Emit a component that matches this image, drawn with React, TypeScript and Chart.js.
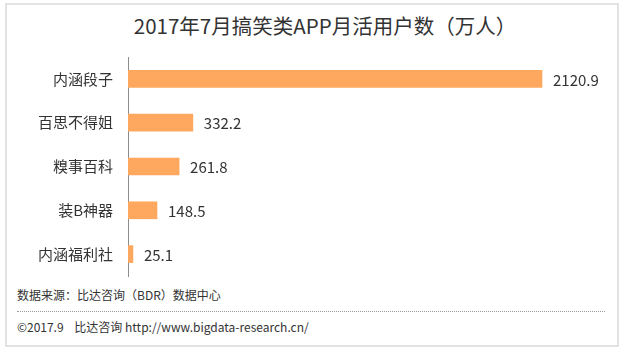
import React, { useEffect, useRef } from "react";
import { Chart, registerables } from "chart.js";

Chart.register(...registerables);

const titleText = "2017年7月搞笑类APP月活用户数（万人）";
const categories = ["内涵段子", "百思不得姐", "糗事百科", "装B神器", "内涵福利社"];
const values = [2120.9, 332.2, 261.8, 148.5, 25.1];
const sourceText = "数据来源：比达咨询（BDR）数据中心";
const copyrightText = "©2017.9    比达咨询 http://www.bigdata-research.cn/";

const FONT = '"Noto Sans CJK SC", "Noto Sans", sans-serif';

const valueLabels = {
  id: "valueLabels",
  afterDatasetsDraw(chart: any) {
    const ctx = chart.ctx;
    const meta = chart.getDatasetMeta(0);
    ctx.save();
    ctx.font = `15px ${FONT}`;
    ctx.fillStyle = "#333333";
    ctx.textAlign = "left";
    ctx.textBaseline = "middle";
    meta.data.forEach((bar: any, i: number) => {
      const v = chart.data.datasets[0].data[i] as number;
      ctx.fillText(v.toFixed(1), bar.x + 11, bar.y + 1);
    });
    ctx.restore();
  },
};

export default function App() {
  const ref = useRef<HTMLCanvasElement>(null);

  useEffect(() => {
    if (!ref.current) return;
    const chart = new Chart(ref.current, {
      type: "bar",
      data: {
        labels: categories,
        datasets: [
          {
            data: values,
            backgroundColor: "#FDA85E",
            borderWidth: 0,
            barThickness: 17,
          },
        ],
      },
      options: {
        indexAxis: "y",
        animation: false,
        responsive: false,
        maintainAspectRatio: false,
        layout: { padding: { left: 0, right: 9, top: 57, bottom: 6 } },
        plugins: {
          legend: { display: false },
          tooltip: { enabled: false },
          title: { display: false },
        },
        scales: {
          x: {
            display: false,
            min: 0,
            max: 2500,
          },
          y: {
            grid: { display: false, drawTicks: false },
            border: { display: true, color: "#8c8c8c", width: 1 },
            ticks: {
              color: "#333333",
              font: { family: FONT, size: 15 },
              padding: 15,
            },
            afterFit(scale: any) {
              scale.width = 128;
              scale.paddingTop = 0;
              scale.paddingBottom = 0;
            },
          },
        },
      },
      plugins: [valueLabels],
    });
    return () => chart.destroy();
  }, []);

  return (
    <div
      style={{
        position: "fixed",
        left: 0,
        top: 0,
        width: 625,
        height: 353,
        background: "#ffffff",
        overflow: "hidden",
      }}
    >
      <div
        style={{
          position: "absolute",
          left: 5,
          top: 3,
          width: 610,
          height: 340,
          border: "2px solid #e3e3e3",
        }}
      />
      <div
        style={{
          position: "absolute",
          left: 0,
          top: 11,
          width: 650,
          textAlign: "center",
          fontFamily: FONT,
          fontSize: 20.5,
          lineHeight: "28px",
          color: "#333333",
          whiteSpace: "pre",
        }}
      >
        {titleText}
      </div>
      <canvas
        ref={ref}
        width={625}
        height={282}
        style={{ position: "absolute", left: 0, top: 0, width: 625, height: 282 }}
      />
      <div
        style={{
          position: "absolute",
          left: 17,
          top: 287,
          fontFamily: FONT,
          fontSize: 12,
          lineHeight: "16px",
          color: "#333333",
          whiteSpace: "pre",
        }}
      >
        {sourceText}
      </div>
      <div
        style={{
          position: "absolute",
          left: 17,
          top: 311,
          width: 588,
          height: 0,
          borderTop: "1px dotted #9a9a9a",
        }}
      />
      <div
        style={{
          position: "absolute",
          left: 17,
          top: 319,
          fontFamily: FONT,
          fontSize: 12,
          lineHeight: "16px",
          color: "#333333",
          whiteSpace: "pre",
        }}
      >
        {copyrightText}
      </div>
    </div>
  );
}
